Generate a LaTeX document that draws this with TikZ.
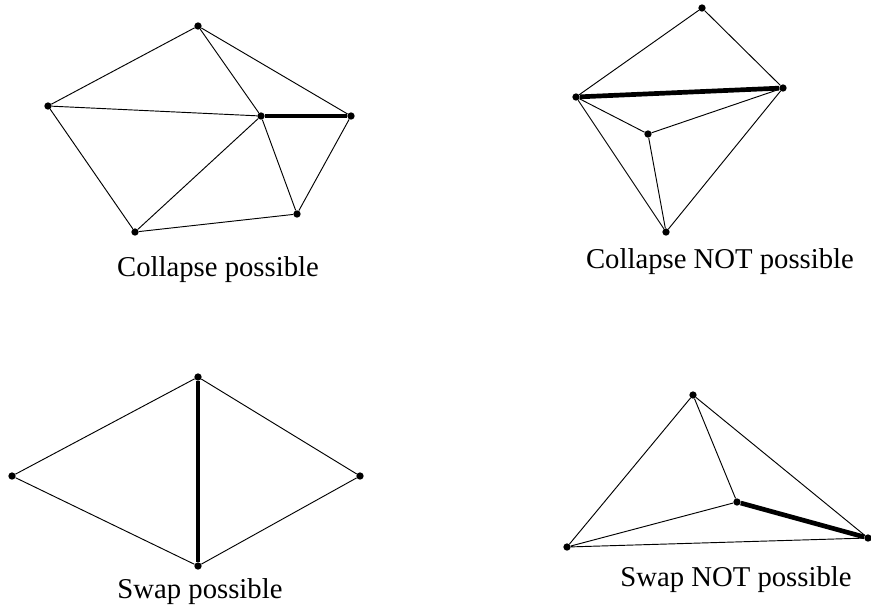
\documentclass[tikz,border=0pt]{standalone}
\usepackage{fontspec}
\setmainfont{Liberation Serif}
\usepackage{tikz}
\usetikzlibrary{positioning}

\begin{document}
\begin{tikzpicture}[x=0.03cm, y=-0.03cm,
  vtx/.style={circle, fill=black, inner sep=0pt, minimum size=0.22cm},
  edg/.style={line width=0.8pt},
  hot/.style={line width=4pt},
  lbl/.style={font=\fontsize{24.5}{28}\selectfont}]
\useasboundingbox (0,0) rectangle (871,609);
% collapse possible
\node[vtx] (a1) at (198,26) {};
\node[vtx] (a2) at (48,106) {};
\node[vtx] (a3) at (261,116) {};
\node[vtx] (a4) at (351,116) {};
\node[vtx] (a5) at (135,232) {};
\node[vtx] (a6) at (297,214) {};
\draw[edg] (a1) -- (a2) (a1) -- (a3) (a1) -- (a4) (a2) -- (a3) (a2) -- (a5)
  (a3) -- (a5) (a3) -- (a6) (a5) -- (a6) (a4) -- (a6);
\draw[hot] (a3) -- (a4);
\node[lbl] (ca) at (218,270) {Collapse possible};
% collapse not possible
\node[vtx] (b1) at (702,8) {};
\node[vtx] (b2) at (576,97) {};
\node[vtx] (b3) at (783,88) {};
\node[vtx] (b4) at (648,134) {};
\node[vtx] (b5) at (666,232) {};
\draw[edg] (b1) -- (b2) (b1) -- (b3) (b2) -- (b4) (b4) -- (b3) (b4) -- (b5)
  (b2) -- (b5) (b3) -- (b5);
\draw[hot] (b2) -- (b3);
\node[lbl] (cb) at (720,262) {Collapse NOT possible};
% swap possible
\node[vtx] (c1) at (198,377) {};
\node[vtx] (c2) at (12,476) {};
\node[vtx] (c3) at (360,476) {};
\node[vtx] (c4) at (198,566) {};
\draw[edg] (c1) -- (c2) -- (c4) -- (c3) -- (c1);
\draw[hot] (c1) -- (c4);
\node[lbl] (cc) at (200,592) {Swap possible};
% swap not possible
\node[vtx] (d1) at (693,395) {};
\node[vtx] (d2) at (737,502) {};
\node[vtx] (d3) at (868,538) {};
\node[vtx] (d4) at (567,547) {};
\draw[edg] (d1) -- (d4) (d1) -- (d2) (d1) -- (d3) (d2) -- (d4) (d4) -- (d3);
\draw[hot] (d2) -- (d3);
\node[lbl] (cd) at (736,580) {Swap NOT possible};
\end{tikzpicture}
\end{document}
